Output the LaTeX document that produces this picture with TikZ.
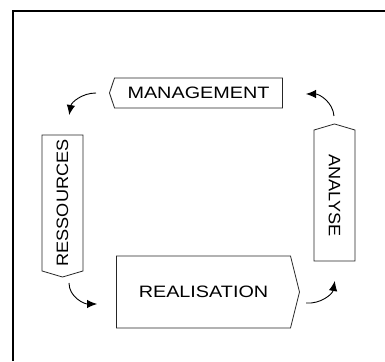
\documentclass[tikz,border=0pt]{standalone}
\usepackage{fontspec}
\usetikzlibrary{shapes.symbols,arrows.meta}
\newfontfamily\widesans[FakeStretch=1.2]{Liberation Sans}
\newfontfamily\tallsans[FakeStretch=1.1]{Liberation Sans}

\begin{document}
\begin{tikzpicture}[x=1pt,y=1pt,>=Latex,
  phase/.style={draw=black!85,line width=0.8pt,signal,signal to=west,signal from=nowhere,
    inner sep=0pt,font=\fontsize{16.5}{18}\selectfont\widesans},
  vphase/.style={phase,font=\fontsize{16.5}{18}\selectfont\tallsans},
  cyc/.style={->,line width=0.9pt,shorten >=1pt,>={Latex[length=10pt,width=8.5pt]}}]
  \useasboundingbox (0,0) rectangle (385,361);
  % frame: only the left and top edges show
  \draw[line width=2pt] (13,0) -- (13,350) -- (385,350);

  % ---------------- the four phases ----------------
  \node[phase,signal pointer angle=143,minimum width=173pt,minimum height=30pt] (mgmt) at (198.5,268) {MANAGEMENT};
  \node[vphase,rotate=90,signal pointer angle=147,minimum width=142pt,minimum height=41pt] (res) at (62.5,158) {RESSOURCES};
  \node[vphase,rotate=-90,signal pointer angle=147,minimum width=137pt,minimum height=41pt] (ana) at (334.5,165.5) {ANALYSE};
  \node[phase,signal to=east,signal pointer angle=152,minimum width=183pt,minimum height=72pt] (real) at (203.5,69) {REALISATION};

  % ---------------- cycle arrows ----------------
  \coordinate (m1) at (96,268);  \coordinate (r1) at (69,245);
  \coordinate (r2) at (69,78);   \coordinate (e1) at (98,57);
  \coordinate (e2) at (306,58);  \coordinate (a1) at (335,81);
  \coordinate (a2) at (334,245); \coordinate (m2) at (305,267);
  \draw[cyc] (m1) to[out=180,in=80] (r1);
  \draw[cyc] (r2) to[out=-90,in=180] (e1);
  \draw[cyc] (e2) to[out=-5,in=-100] (a1);
  \draw[cyc] (a2) to[out=95,in=0] (m2);
\end{tikzpicture}
\end{document}
